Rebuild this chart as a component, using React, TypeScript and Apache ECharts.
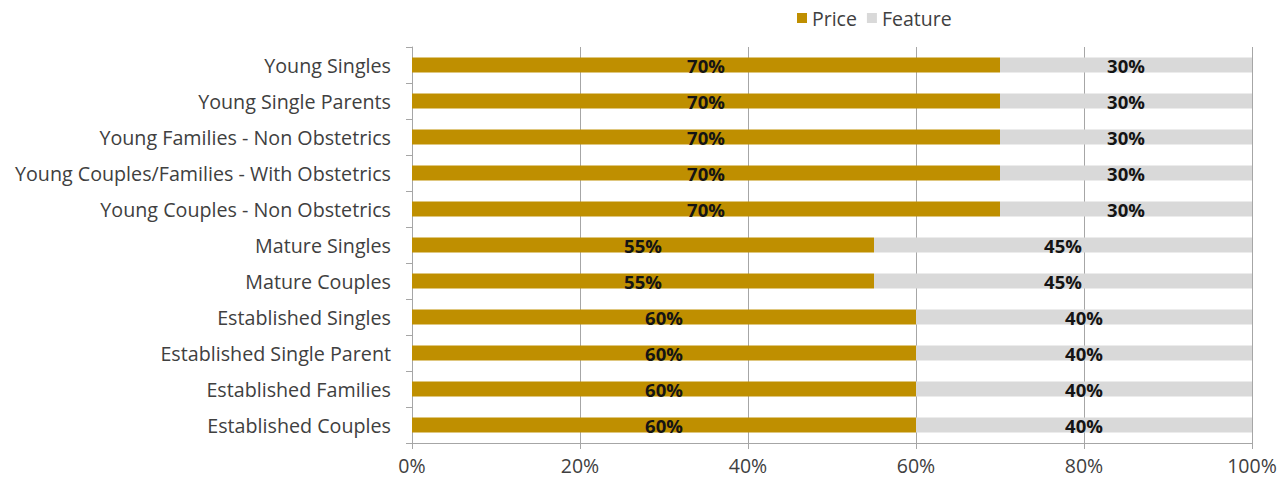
import React, { useEffect, useRef } from "react";
import * as echarts from "echarts";

const categories = [
  "Young Singles",
  "Young Single Parents",
  "Young Families - Non Obstetrics",
  "Young Couples/Families - With Obstetrics",
  "Young Couples - Non Obstetrics",
  "Mature Singles",
  "Mature Couples",
  "Established Singles",
  "Established Single Parent",
  "Established Families",
  "Established Couples",
];
const priceValues = [70, 70, 70, 70, 70, 55, 55, 60, 60, 60, 60];
const featureValues = [30, 30, 30, 30, 30, 45, 45, 40, 40, 40, 40];

const FONT = "'Open Sans', 'Noto Sans', sans-serif";

export default function App() {
  const ref = useRef<HTMLDivElement>(null);
  useEffect(() => {
    if (!ref.current) return;
    const chart = echarts.init(ref.current, null, { renderer: "svg" });
    const labelStyle = {
      show: true,
      position: "inside",
      formatter: "{c}%",
      color: "#141414",
      fontWeight: "bold",
      fontSize: 18.5,
      fontFamily: FONT,
    };
    chart.setOption({
      animation: false,
      backgroundColor: "#fff",
      legend: {
        left: 797,
        top: 8,
        padding: 0,
        itemWidth: 10,
        itemHeight: 10,
        itemGap: 10,
        icon: "rect",
        textStyle: { fontSize: 19.5, color: "#404040", fontFamily: FONT },
        data: ["Price", "Feature"],
      },
      grid: { left: 412, right: 28, top: 47, bottom: 43, containLabel: false },
      xAxis: {
        type: "value",
        min: 0,
        max: 100,
        interval: 20,
        axisLabel: {
          formatter: "{value}%",
          fontSize: 19.5,
          color: "#404040",
          fontFamily: FONT,
          margin: 12,
        },
        axisLine: { show: true, lineStyle: { color: "#a6a6a6", width: 1 } },
        axisTick: { show: true, length: 6, lineStyle: { color: "#a6a6a6" } },
        splitLine: { show: true, lineStyle: { color: "#a6a6a6", width: 1 } },
      },
      yAxis: {
        type: "category",
        inverse: true,
        data: categories,
        axisLabel: {
          fontSize: 19.7,
          color: "#404040",
          fontFamily: FONT,
          margin: 21,
        },
        axisLine: { show: true, lineStyle: { color: "#a6a6a6", width: 1 } },
        axisTick: { show: true, length: 6, lineStyle: { color: "#a6a6a6" } },
      },
      series: [
        {
          name: "Price",
          type: "bar",
          stack: "total",
          barWidth: 15,
          data: priceValues,
          itemStyle: { color: "#BF8F00" },
          label: labelStyle,
        },
        {
          name: "Feature",
          type: "bar",
          stack: "total",
          barWidth: 15,
          data: featureValues,
          itemStyle: { color: "#D9D9D9" },
          label: labelStyle,
        },
      ],
    });
    return () => chart.dispose();
  }, []);
  return (
    <div
      ref={ref}
      style={{ position: "fixed", left: 0, top: 0, width: 1280, height: 486 }}
    />
  );
}
